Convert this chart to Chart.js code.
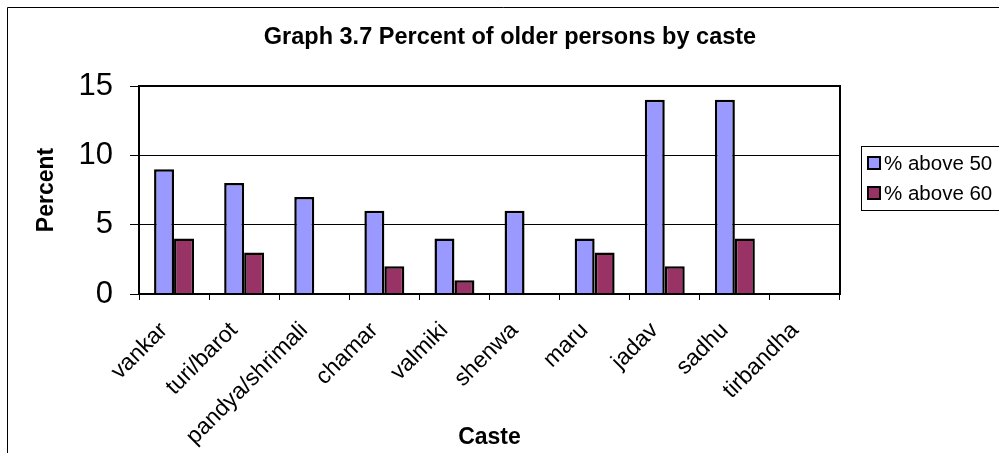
<!DOCTYPE html>
<html>
<head>
<meta charset="utf-8">
<script src="https://cdn.jsdelivr.net/npm/chart.js@4/dist/chart.umd.min.js"></script>
<style>
  html, body { margin: 0; padding: 0; background: #fff; }
  #wrap { width: 999px; height: 453px; position: relative; }
</style>
</head>
<body>
<div id="wrap"><canvas id="c" width="999" height="453"></canvas></div>
<script>
// Castes on the category axis
const castes = ['vankar', 'turi/barot', 'pandya/shrimali', 'chamar', 'valmiki',
                'shenwa', 'maru', 'jadav', 'sadhu', 'tirbandha'];
// Percent of persons older than 50 and 60 in each caste
const above50 = [9, 8, 7, 6, 4, 6, 4, 14, 14, 0];
const above60 = [4, 3, 0, 2, 1, 0, 3, 2, 4, 0];
// Value axis ticks
const yTicks = [0, 5, 10, 15];

const FONT = '"Liberation Sans", Arial, Helvetica, sans-serif';

// Chart title, outer frame, plot frame and boxed legend
const decor = {
  id: 'decor',
  afterDraw(chart) {
    const ctx = chart.ctx;
    const a = chart.chartArea;
    ctx.save();
    // outer frame
    ctx.strokeStyle = '#000';
    ctx.lineWidth = 1;
    ctx.beginPath();
    ctx.moveTo(7.5, 460);
    ctx.lineTo(7.5, 7.5);
    ctx.lineTo(1005, 7.5);
    ctx.stroke();
    // plot frame
    ctx.lineWidth = 2;
    ctx.strokeRect(a.left, a.top, a.right - a.left, a.bottom - a.top);
    // title
    ctx.fillStyle = '#000';
    ctx.font = 'bold 23.5px ' + FONT;
    ctx.textAlign = 'center';
    ctx.textBaseline = 'alphabetic';
    ctx.fillText('Graph 3.7 Percent of older persons by caste', 510, 44);
    // legend
    ctx.lineWidth = 1;
    ctx.strokeStyle = '#000';
    ctx.fillStyle = '#fff';
    ctx.fillRect(861.5, 146.5, 150, 64);
    ctx.strokeRect(861.5, 146.5, 150, 64);
    ctx.font = '20.5px ' + FONT;
    ctx.textAlign = 'left';
    ctx.textBaseline = 'middle';
    chart.data.datasets.forEach((ds, i) => {
      const cy = 163 + i * 30;
      ctx.fillStyle = ds.backgroundColor;
      ctx.fillRect(868, cy - 6, 12, 12);
      ctx.lineWidth = 2;
      ctx.strokeStyle = '#000';
      ctx.strokeRect(868, cy - 6, 12, 12);
      ctx.fillStyle = '#000';
      ctx.fillText(ds.label, 884, cy + 1);
    });
    ctx.restore();
  }
};

new Chart(document.getElementById('c'), {
  type: 'bar',
  data: {
    labels: castes,
    datasets: [
      { label: '% above 50', data: above50, backgroundColor: '#9999FF',
        borderColor: '#000', borderWidth: 2.5 },
      { label: '% above 60', data: above60, backgroundColor: '#993366',
        borderColor: '#000', borderWidth: 2.5 }
    ]
  },
  options: {
    responsive: false,
    animation: false,
    events: [],
    categoryPercentage: 0.57,
    barPercentage: 1.0,
    layout: { padding: { left: 8, top: 86, right: 159, bottom: 2 } },
    plugins: {
      legend: { display: false },
      title: { display: false },
      tooltip: { enabled: false }
    },
    scales: {
      x: {
        grid: { display: true, drawOnChartArea: false, drawTicks: true,
                tickLength: 6, color: '#000', lineWidth: 1, offset: true },
        border: { display: true, color: '#000', width: 2 },
        ticks: { color: '#000', font: { family: FONT, size: 23 },
                 minRotation: 45, maxRotation: 45, padding: 17,
                 labelOffset: -10, autoSkip: false },
        title: { display: true, text: 'Caste', color: '#000',
                 font: { family: FONT, size: 23, weight: 'bold' },
                 padding: { top: 0, bottom: 0 } },
        afterFit(scale) { scale.height = 157; }
      },
      y: {
        min: 0, max: 15,
        afterBuildTicks(scale) { scale.ticks = yTicks.map(v => ({ value: v })); },
        grid: { color: '#000', lineWidth: 1, tickLength: 9, drawTicks: true },
        border: { display: true, color: '#000', width: 2 },
        ticks: { color: '#000', font: { family: FONT, size: 31 }, padding: 17 },
        title: { display: true, text: 'Percent', color: '#000',
                 font: { family: FONT, size: 23, weight: 'bold' },
                 padding: { top: 25, bottom: 0 } },
        afterFit(scale) { scale.width = 131; }
      }
    }
  },
  plugins: [decor]
});
</script>
</body>
</html>
